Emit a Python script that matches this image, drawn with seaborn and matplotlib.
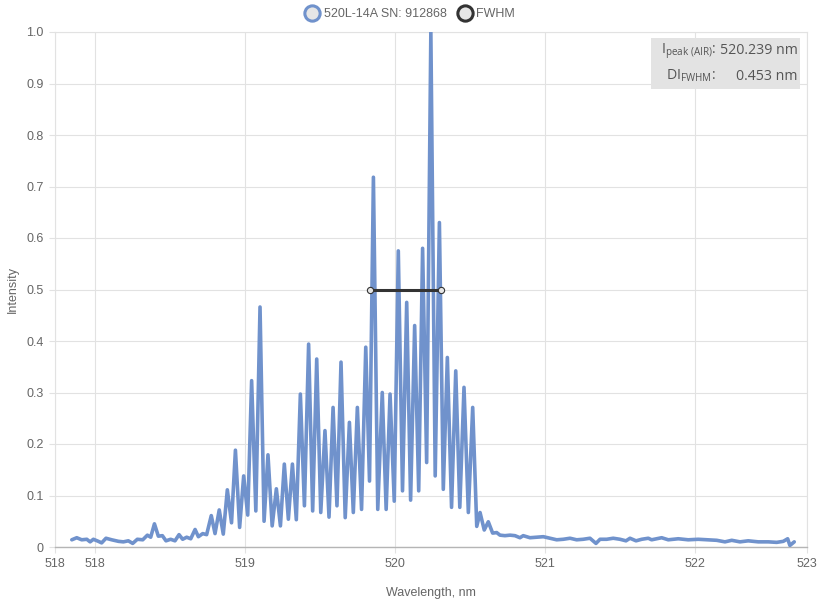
import matplotlib
matplotlib.use("Agg")
import matplotlib.pyplot as plt
from matplotlib.lines import Line2D
from matplotlib.patches import Rectangle
import pandas as pd
import seaborn as sns

# spectrum (wavelength nm, normalised intensity)
wavelength = [
    517.845, 517.878, 517.911, 517.945, 517.967, 517.989, 518.022, 518.044, 518.073, 518.111,
    518.156, 518.189, 518.222, 518.251, 518.282, 518.318, 518.349, 518.371, 518.396, 518.422,
    518.449, 518.473, 518.504, 518.533, 518.560, 518.584, 518.611, 518.638, 518.667, 518.689,
    518.718, 518.744, 518.775, 518.800, 518.828, 518.855, 518.882, 518.910, 518.936, 518.964,
    518.991, 519.018, 519.044, 519.072, 519.100, 519.127, 519.153, 519.181, 519.209, 519.236,
    519.262, 519.289, 519.316, 519.342, 519.369, 519.396, 519.424, 519.451, 519.478, 519.505,
    519.533, 519.560, 519.587, 519.613, 519.640, 519.668, 519.696, 519.722, 519.749, 519.777,
    519.805, 519.830, 519.856, 519.885, 519.915, 519.941, 519.967, 519.995, 520.022, 520.050,
    520.078, 520.104, 520.131, 520.158, 520.184, 520.211, 520.239, 520.268, 520.296, 520.322,
    520.349, 520.377, 520.405, 520.432, 520.460, 520.489, 520.518, 520.545, 520.567, 520.595,
    520.622, 520.651, 520.678, 520.700, 520.733, 520.767, 520.800, 520.833, 520.855, 520.900,
    520.945, 520.989, 521.033, 521.078, 521.122, 521.167, 521.211, 521.255, 521.300, 521.340,
    521.367, 521.411, 521.455, 521.500, 521.540, 521.567, 521.607, 521.645, 521.689, 521.711,
    521.778, 521.822, 521.889, 521.955, 522.022, 522.089, 522.145, 522.200, 522.245, 522.300,
    522.355, 522.422, 522.489, 522.545, 522.589, 522.618, 522.633, 522.662,
]
intensity = [
    0.014, 0.018, 0.014, 0.015, 0.010, 0.015, 0.011, 0.008, 0.017, 0.014,
    0.011, 0.010, 0.012, 0.007, 0.015, 0.014, 0.023, 0.019, 0.045, 0.021,
    0.022, 0.012, 0.015, 0.012, 0.024, 0.015, 0.019, 0.016, 0.034, 0.020,
    0.026, 0.024, 0.061, 0.026, 0.072, 0.025, 0.111, 0.047, 0.188, 0.038,
    0.138, 0.062, 0.323, 0.070, 0.466, 0.050, 0.179, 0.041, 0.113, 0.041,
    0.161, 0.054, 0.161, 0.053, 0.297, 0.080, 0.394, 0.070, 0.365, 0.067,
    0.226, 0.058, 0.271, 0.080, 0.359, 0.057, 0.242, 0.067, 0.271, 0.073,
    0.388, 0.128, 0.718, 0.073, 0.300, 0.073, 0.297, 0.089, 0.575, 0.109,
    0.475, 0.091, 0.430, 0.109, 0.580, 0.164, 1.000, 0.138, 0.630, 0.112,
    0.368, 0.077, 0.342, 0.077, 0.310, 0.067, 0.271, 0.040, 0.067, 0.033,
    0.049, 0.027, 0.028, 0.023, 0.022, 0.023, 0.022, 0.018, 0.022, 0.018,
    0.019, 0.020, 0.017, 0.014, 0.015, 0.017, 0.014, 0.015, 0.017, 0.007,
    0.015, 0.015, 0.017, 0.015, 0.012, 0.017, 0.012, 0.015, 0.017, 0.014,
    0.018, 0.014, 0.016, 0.014, 0.015, 0.014, 0.013, 0.010, 0.013, 0.010,
    0.012, 0.010, 0.010, 0.009, 0.011, 0.016, 0.003, 0.010,
]

fwhm_x = [519.833, 520.31]
fwhm_y = [0.5, 0.5]

series_name = "520L-14A SN: 912868"
fwhm_name = "FWHM"
peak_label = r"$\mathregular{I_{peak\ (AIR)}}$:"
peak_value = "520.239 nm"
width_label = r"$\mathregular{DI_{FWHM}}$:"
width_value = "0.453 nm"

x_min, x_max = 517.733, 522.747
x_ticks = [x_min, 518, 519, 520, 521, 522, x_max]
x_tick_labels = ["518", "518", "519", "520", "521", "522", "523"]
y_ticks = [0, 0.1, 0.2, 0.3, 0.4, 0.5, 0.6, 0.7, 0.8, 0.9, 1.0]
y_tick_labels = ["0", "0.1", "0.2", "0.3", "0.4", "0.5", "0.6", "0.7", "0.8", "0.9", "1.0"]

blue = "#7092cc"
dark = "#333333"
grey_txt = "#666666"
grid_col = "#e2e2e2"

sns.set_theme(style="white")
plt.rcParams["font.family"] = ["Liberation Sans", "DejaVu Sans"]
plt.rcParams["mathtext.fontset"] = "custom"
plt.rcParams["mathtext.rm"] = "Open Sans"
plt.rcParams["mathtext.it"] = "Open Sans:italic"

fig = plt.figure(figsize=(8.2, 6), dpi=100)
ax = fig.add_axes([55 / 820, 1 - 547 / 600, 752 / 820, 515 / 600])

spec = pd.DataFrame({"wl": wavelength, "I": intensity})
sns.lineplot(data=spec, x="wl", y="I", ax=ax, color=blue, linewidth=2.6,
             estimator=None, sort=False, zorder=3)

fw = pd.DataFrame({"wl": fwhm_x, "I": fwhm_y})
sns.lineplot(data=fw, x="wl", y="I", ax=ax, color=dark, linewidth=2.2,
             marker="o", markersize=4.5, markerfacecolor="#e6e6e6",
             markeredgecolor=dark, markeredgewidth=0.8, estimator=None, zorder=4)

ax.set_xlim(x_min, x_max)
ax.set_ylim(0, 1.0)
ax.set_xticks(x_ticks)
ax.set_xticklabels(x_tick_labels)
ax.set_yticks(y_ticks)
ax.set_yticklabels(y_tick_labels)
ax.grid(True, color=grid_col, linewidth=0.8)
ax.set_axisbelow(True)
ax.tick_params(axis="both", length=4, width=0.8, color=grid_col,
               labelsize=9, labelcolor=grey_txt, pad=4, bottom=True, left=True)

for side in ["top", "right", "left"]:
    ax.spines[side].set_color(grid_col)
    ax.spines[side].set_linewidth(0.8)
ax.spines["bottom"].set_color("#b5b5b5")
ax.spines["bottom"].set_linewidth(1.0)

ax.set_xlabel("Wavelength, nm", fontsize=9, color=grey_txt)
ax.set_ylabel("Intensity", fontsize=9, color=grey_txt)
ax.xaxis.set_label_coords(0.5, -0.078)
ax.yaxis.set_label_coords(-0.048, 0.5)

# info box, top right
fig.add_artist(Rectangle((651 / 820, 1 - 89 / 600), 149 / 820, 51 / 600,
                         transform=fig.transFigure, facecolor="#e3e3e3",
                         edgecolor="none", zorder=5))
box_font = dict(fontsize=10.2, color="#555555", family="Open Sans", zorder=6,
                va="center", transform=fig.transFigure)
fig.text(716 / 820, 1 - 51 / 600, peak_label, ha="right", **box_font)
fig.text(798 / 820, 1 - 51 / 600, peak_value, ha="right", **box_font)
fig.text(716 / 820, 1 - 76 / 600, width_label, ha="right", **box_font)
fig.text(798 / 820, 1 - 76 / 600, width_value, ha="right", **box_font)

handles = [
    Line2D([], [], linestyle="none", marker="o", markersize=11,
           markerfacecolor="#e6e6e6", markeredgecolor=blue, markeredgewidth=2.2),
    Line2D([], [], linestyle="none", marker="o", markersize=11,
           markerfacecolor="#e6e6e6", markeredgecolor=dark, markeredgewidth=2.2),
]
fig.legend(handles, [series_name, fwhm_name], loc="center",
           bbox_to_anchor=(410 / 820, 1 - 14 / 600), ncol=2, frameon=False,
           fontsize=9, labelcolor=grey_txt, handletextpad=0.3,
           columnspacing=0.9, handlelength=1.2)

fig.savefig("out.png", dpi=100)
